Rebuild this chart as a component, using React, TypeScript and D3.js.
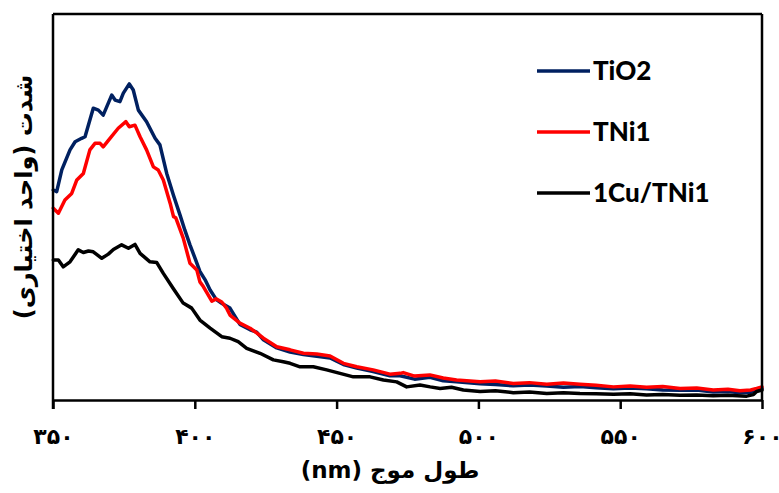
import React, { useEffect, useRef } from "react";
import * as d3 from "d3";

const xTicks = [350, 400, 450, 500, 550, 600];
const seriesNames = ["TiO2", "TNi1", "1Cu/TNi1"];
const seriesColors = ["#002060", "#ff0000", "#000000"];

const tio2Wl = [350.1, 351.3, 353.1, 356.0, 357.8, 360.1, 361.3, 364.2, 366.0, 367.7, 370.7, 371.9, 373.6, 374.8, 376.9, 378.3, 380.1, 383.0, 386.0, 387.7, 390.1, 392.5, 394.8, 396.5, 398.3, 400.2, 401.8, 403.6, 405.4, 407.6, 409.6, 412.4, 415.9, 419.5, 421.8, 424.2, 428.9, 433.6, 438.3, 443.0, 447.7, 452.4, 457.1, 462.9, 468.8, 472.4, 477.5, 482.9, 487.6, 492.3, 500.6, 506.0, 512.3, 518.0, 524.1, 530.0, 535.8, 541.5, 547.6, 553.5, 559.3, 565.0, 571.1, 577.0, 582.8, 588.0, 592.2, 596.0, 598.1, 600.0];
const tio2Val = [54.4, 54.0, 59.6, 64.8, 66.9, 67.8, 68.2, 75.6, 75.1, 73.8, 79.0, 77.7, 77.3, 79.5, 81.9, 80.3, 75.1, 72.1, 67.8, 66.1, 58.7, 53.0, 47.9, 44.0, 40.2, 36.5, 33.3, 31.2, 28.5, 26.0, 25.0, 23.8, 19.6, 18.2, 17.6, 15.6, 13.5, 12.4, 11.8, 11.3, 10.9, 9.2, 8.3, 7.4, 6.3, 6.3, 5.4, 5.9, 5.0, 4.7, 4.2, 4.0, 3.7, 3.9, 3.6, 3.3, 3.5, 3.2, 2.9, 3.1, 2.9, 2.6, 2.5, 2.6, 2.1, 2.2, 1.9, 2.0, 2.6, 3.0];

const tni1Wl = [350.1, 351.9, 354.2, 356.6, 358.4, 360.7, 363.0, 364.8, 366.6, 367.7, 370.1, 373.0, 375.7, 376.9, 378.9, 380.7, 383.0, 385.4, 387.1, 388.9, 391.3, 392.5, 393.3, 395.9, 398.3, 400.7, 401.8, 403.0, 406.0, 407.5, 409.5, 411.2, 412.4, 415.9, 419.5, 421.8, 424.2, 428.9, 433.6, 438.3, 443.0, 447.7, 452.4, 457.1, 462.9, 468.8, 472.4, 473.5, 477.5, 482.9, 487.6, 492.3, 500.6, 506.0, 512.3, 518.0, 524.1, 530.0, 535.8, 541.5, 547.6, 553.5, 559.3, 565.0, 571.1, 577.0, 582.8, 588.0, 592.2, 596.0, 598.1, 600.0];
const tni1Val = [49.7, 48.4, 51.8, 53.5, 57.0, 58.7, 64.8, 66.5, 66.5, 65.6, 67.8, 70.4, 72.1, 70.8, 71.2, 68.2, 64.8, 60.4, 59.6, 57.0, 51.0, 47.5, 47.2, 42.0, 35.4, 33.7, 30.6, 29.4, 25.6, 26.2, 25.4, 23.8, 22.0, 19.9, 18.6, 17.4, 16.0, 13.8, 13.0, 12.1, 11.9, 11.4, 9.5, 8.6, 7.8, 6.7, 6.9, 7.1, 6.2, 6.5, 5.7, 5.2, 4.7, 4.9, 4.3, 4.5, 4.1, 4.4, 4.1, 3.8, 3.4, 3.6, 3.3, 3.5, 3.0, 3.1, 2.6, 2.8, 2.4, 2.6, 3.0, 3.4];

const cuWl = [350.1, 351.9, 353.6, 356.0, 358.9, 360.7, 362.5, 364.2, 367.2, 369.5, 371.3, 374.2, 376.6, 378.9, 380.7, 384.2, 386.6, 388.9, 392.4, 395.9, 398.9, 401.8, 405.4, 409.5, 412.4, 415.3, 418.3, 423.0, 427.7, 431.2, 433.6, 437.1, 441.8, 446.5, 451.2, 455.9, 461.8, 466.5, 471.2, 474.7, 479.4, 483.0, 486.5, 490.5, 494.7, 500.6, 506.0, 512.3, 518.0, 524.1, 530.0, 535.8, 541.5, 547.6, 553.5, 559.3, 565.0, 571.1, 577.0, 582.8, 588.0, 594.6, 597.0, 598.1, 600.0];
const cuVal = [36.3, 36.3, 34.5, 35.8, 38.9, 38.2, 38.6, 38.4, 36.7, 37.8, 39.0, 40.2, 39.3, 40.3, 38.0, 35.8, 35.6, 32.8, 28.9, 25.1, 23.8, 20.7, 18.6, 16.4, 16.0, 15.1, 13.4, 12.1, 10.4, 9.9, 9.5, 8.6, 8.6, 7.8, 6.9, 6.0, 6.0, 5.2, 4.7, 3.4, 3.9, 3.4, 3.0, 3.3, 2.6, 2.2, 2.4, 1.9, 2.1, 1.7, 1.9, 1.7, 1.6, 1.5, 1.6, 1.3, 1.4, 1.2, 1.3, 1.1, 1.2, 1.0, 1.4, 2.2, 2.6];

const seriesWl = [tio2Wl, tni1Wl, cuWl];
const seriesVal = [tio2Val, tni1Val, cuVal];

const toPersian = (n: number) =>
  String(n).replace(/[0-9]/g, (d) => "۰۱۲۳۴۵۶۷۸۹"[+d]);

const W = 779;
const H = 493;
const M = { left: 53, right: 17, top: 14, bottom: 93 };

export default function App() {
  const gRef = useRef<SVGGElement>(null);
  const iw = W - M.left - M.right;
  const ih = H - M.top - M.bottom;
  const x = d3.scaleLinear().domain([350, 600]).range([0, iw]);
  const y = d3.scaleLinear().domain([0, 100]).range([ih, 0]);

  useEffect(() => {
    if (!gRef.current) return;
    const g = d3.select(gRef.current);
    g.selectAll("*").remove();
    const ax = g
      .append("g")
      .attr("transform", `translate(0,${ih})`)
      .call(
        d3
          .axisBottom(x)
          .tickValues(xTicks)
          .tickSize(9)
          .tickSizeOuter(0)
          .tickPadding(19)
          .tickFormat((d) => toPersian(d as number))
      );
    ax.select(".domain").attr("stroke", "#000").attr("stroke-width", 2.5);
    ax.selectAll(".tick line").attr("stroke", "#000").attr("stroke-width", 2.5);
    ax.selectAll(".tick text")
      .attr("fill", "#000")
      .attr("font-family", "DejaVu Sans")
      .attr("font-weight", "bold")
      .attr("font-size", 22);
  }, []);

  const line = d3
    .line<[number, number]>()
    .x((d) => x(d[0]))
    .y((d) => y(d[1]));

  return (
    <svg
      width={W}
      height={H}
      style={{ position: "absolute", left: 0, top: 0, background: "#fff" }}
    >
      <g transform={`translate(${M.left},${M.top})`}>
        {seriesNames.map((name, i) => (
          <path
            key={name}
            d={line(seriesWl[i].map((w, k) => [w, seriesVal[i][k]]) as [number, number][]) || ""}
            fill="none"
            stroke={seriesColors[i]}
            strokeWidth={3.5}
            strokeLinejoin="round"
            strokeLinecap="round"
          />
        ))}
        <line x1={0} x2={iw} y1={0} y2={0} stroke="#000" strokeWidth={2.5} />
        <line x1={0} x2={0} y1={0} y2={ih + 9} stroke="#000" strokeWidth={2.5} />
        <line x1={iw} x2={iw} y1={0} y2={ih} stroke="#000" strokeWidth={2.5} />
        <g ref={gRef} />
        {seriesNames.map((name, i) => (
          <g key={name} transform={`translate(${484},${57 + i * 61})`}>
            <line x1={0} x2={53} y1={0} y2={0} stroke={seriesColors[i]} strokeWidth={3.5} />
            <text
              x={56}
              y={0}
              dy="0.36em"
              fontFamily="Lato, 'Open Sans', sans-serif"
              fontWeight="900"
              fontSize={26}
              fill="#000"
            >
              {name}
            </text>
          </g>
        ))}
      </g>
      <text
        x={390}
        y={470}
        direction="rtl"
        textAnchor="middle"
        dy="0.35em"
        fontFamily="DejaVu Sans"
        fontWeight="bold"
        fontSize={23}
        fill="#000"
      >
        طول موج (nm)
      </text>
      <text
        transform="translate(24,197) rotate(-90)"
        direction="rtl"
        textAnchor="middle"
        dy="0.35em"
        fontFamily="DejaVu Sans"
        fontWeight="bold"
        fontSize={24}
        fill="#000"
      >
        شدت (واحد اختیاری)
      </text>
    </svg>
  );
}
